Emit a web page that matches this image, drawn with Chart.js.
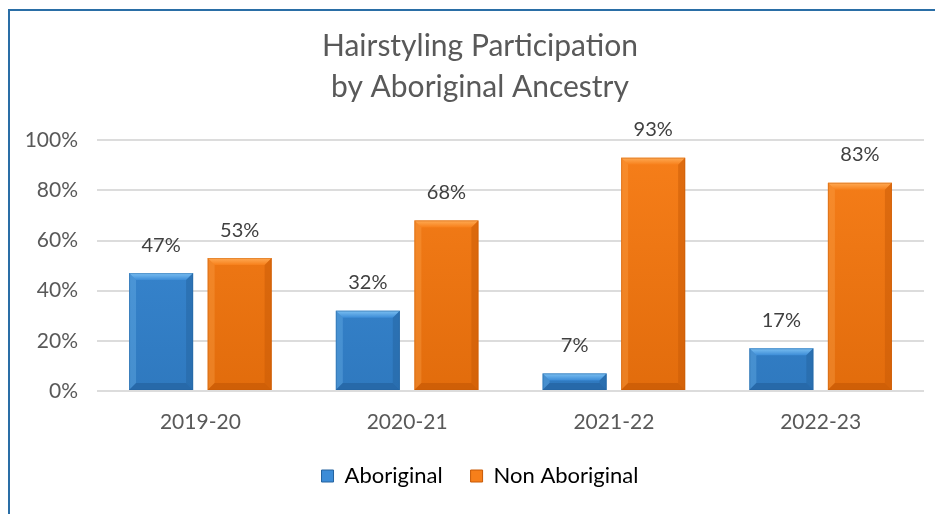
<!DOCTYPE html>
<html>
<head>
<meta charset="utf-8">
<script src="https://cdn.jsdelivr.net/npm/chart.js@4.4.1/dist/chart.umd.min.js"></script>
<style>
    html, body { margin: 0; padding: 0; background: #fff; }
    #wrap { position: relative; width: 935px; height: 514px; overflow: hidden; }
    #frame {
        position: absolute; left: 8px; top: 9px; right: -4px; bottom: -4px;
        border-left: 2px solid #2a6ea6; border-top: 2px solid #2a6ea6;
    }
    #chart { position: absolute; left: 0; top: 0; }
</style>
</head>
<body>
<div id="wrap">
    <div id="frame"></div>
    <canvas id="chart" width="935" height="514"></canvas>
</div>
<script>
const years = ['2019-20', '2020-21', '2021-22', '2022-23'];
const aboriginal = [47, 32, 7, 17];
const nonAboriginal = [53, 68, 93, 83];
const yTicks = [0, 20, 40, 60, 80, 100];

const blue = { body: '#3c8cd7', light: '#7cc0f2', dark: '#24639f', side: '#2f79bf' };
const orange = { body: '#f77f1a', light: '#ffab55', dark: '#c85a06', side: '#e26c0c' };

const tickFont = { family: 'Lato', size: 21 };

// y labels are mirrored so they are not clipped to the narrow axis box;
// shift them back left by the widest label so they sit right-aligned outside
const measure = document.createElement('canvas').getContext('2d');
measure.font = tickFont.size + 'px ' + tickFont.family;
const widestTick = Math.max(...yTicks.map(v => measure.measureText(v + '%').width));

function barFill(ctx, c) {
    const area = ctx.chart.chartArea;
    if (!area) return c.body;
    const g = ctx.chart.ctx.createLinearGradient(0, area.top, 0, area.bottom);
    g.addColorStop(0, c.body);
    g.addColorStop(1, c.side);
    return g;
}

// bevel edges on each bar, drawn from the bar element geometry
const bevel = {
    id: 'bevel',
    afterDatasetsDraw(chart) {
        const ctx = chart.ctx;
        chart.data.datasets.forEach((ds, i) => {
            const c = ds.palette;
            chart.getDatasetMeta(i).data.forEach(bar => {
                const l = bar.x - bar.width / 2, r = bar.x + bar.width / 2;
                const t = bar.y, b = bar.base;
                const s = Math.min(7, (b - t) / 2);
                ctx.save();
                // top face
                const tg = ctx.createLinearGradient(0, t, 0, t + s);
                tg.addColorStop(0, c.light);
                tg.addColorStop(1, c.body);
                ctx.fillStyle = tg;
                ctx.beginPath();
                ctx.moveTo(l, t); ctx.lineTo(r, t); ctx.lineTo(r - s, t + s); ctx.lineTo(l + s, t + s);
                ctx.closePath(); ctx.fill();
                // left face
                ctx.globalAlpha = 0.3;
                ctx.fillStyle = c.light;
                ctx.beginPath();
                ctx.moveTo(l, t); ctx.lineTo(l + s, t + s); ctx.lineTo(l + s, b - s); ctx.lineTo(l, b);
                ctx.closePath(); ctx.fill();
                // right face
                ctx.globalAlpha = 0.5;
                ctx.fillStyle = c.dark;
                ctx.beginPath();
                ctx.moveTo(r, t); ctx.lineTo(r - s, t + s); ctx.lineTo(r - s, b - s); ctx.lineTo(r, b);
                ctx.closePath(); ctx.fill();
                // bottom face
                ctx.globalAlpha = 0.7;
                ctx.beginPath();
                ctx.moveTo(l, b); ctx.lineTo(l + s, b - s); ctx.lineTo(r - s, b - s); ctx.lineTo(r, b);
                ctx.closePath(); ctx.fill();
                // outline
                ctx.globalAlpha = 0.45;
                ctx.strokeStyle = c.dark;
                ctx.lineWidth = 1;
                ctx.strokeRect(l + 0.5, t + 0.5, r - l - 1, b - t - 1);
                ctx.restore();
            });
        });
    }
};

// value labels above the bars
const valueLabels = {
    id: 'valueLabels',
    afterDatasetsDraw(chart) {
        const ctx = chart.ctx;
        ctx.save();
        ctx.font = '20px Lato';
        ctx.fillStyle = '#404040';
        ctx.textAlign = 'center';
        ctx.textBaseline = 'middle';
        chart.data.datasets.forEach((ds, i) => {
            chart.getDatasetMeta(i).data.forEach((bar, j) => {
                ctx.fillText(ds.data[j] + '%', bar.x, bar.y - 28);
            });
        });
        ctx.restore();
    }
};

new Chart(document.getElementById('chart'), {
    type: 'bar',
    data: {
        labels: years,
        datasets: [
            {
                label: 'Aboriginal',
                data: aboriginal,
                palette: blue,
                backgroundColor: ctx => barFill(ctx, blue),
                categoryPercentage: 0.76,
                barPercentage: 0.815
            },
            {
                label: 'Non Aboriginal',
                data: nonAboriginal,
                palette: orange,
                backgroundColor: ctx => barFill(ctx, orange),
                categoryPercentage: 0.76,
                barPercentage: 0.815
            }
        ]
    },
    options: {
        responsive: false,
        animation: false,
        layout: { padding: { left: 36, right: 11, top: 0, bottom: 17 } },
        scales: {
            x: {
                afterFit: scale => { scale.height = 46; },
                grid: { display: false },
                border: { display: false },
                ticks: {
                    color: '#595959',
                    font: { family: 'Lato', size: 21, lineHeight: 1.43 },
                    padding: 8
                }
            },
            y: {
                min: 0,
                max: 100,
                afterFit: scale => { scale.width = 61; },
                afterBuildTicks: scale => { scale.ticks = yTicks.map(v => ({ value: v })); },
                grid: { color: '#dcdcdc', lineWidth: 2, drawTicks: false },
                border: { display: false },
                ticks: {
                    color: '#595959',
                    font: tickFont,
                    mirror: true,
                    crossAlign: 'far',
                    padding: -19 - widestTick,
                    callback: v => v + '%'
                }
            }
        },
        plugins: {
            title: {
                display: true,
                text: ['Hairstyling Participation', 'by Aboriginal Ancestry'],
                color: '#595959',
                font: { family: 'Lato', size: 30, weight: 'normal', lineHeight: 1.37 },
                padding: { top: 26, bottom: 32 }
            },
            legend: {
                position: 'bottom',
                labels: {
                    color: '#595959',
                    font: { family: 'Lato', size: 22 },
                    boxWidth: 12,
                    boxHeight: 12,
                    padding: 28,
                    generateLabels: chart => chart.data.datasets.map((ds, i) => ({
                        text: ds.label,
                        fillStyle: ds.palette.body,
                        strokeStyle: ds.palette.dark,
                        lineWidth: 1,
                        datasetIndex: i
                    }))
                }
            },
            tooltip: { enabled: false }
        }
    },
    plugins: [bevel, valueLabels]
});
</script>
</body>
</html>
